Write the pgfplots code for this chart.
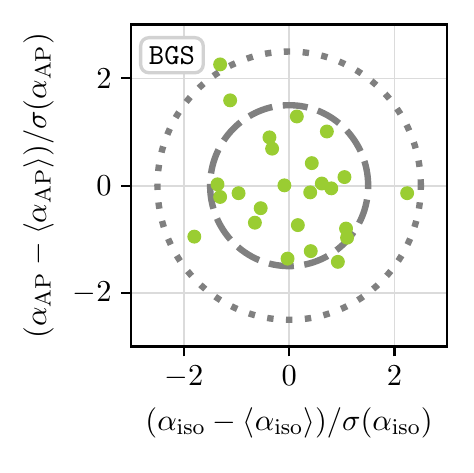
\documentclass[border=0pt]{standalone}
\usepackage{pgfplots}
\pgfplotsset{compat=1.18}
\definecolor{ptgreen}{HTML}{9ACD32}
\begin{document}
\begin{tikzpicture}[font=\fontsize{11.3}{13.5}\selectfont]
\begin{axis}[
  name=ax,
  scale only axis,
  width=113.8pt, height=115.9pt,
  xmin=-3, xmax=3, ymin=-3, ymax=3,
  xtick={-2,0,2}, ytick={-2,0,2},
  tick align=outside,
  xtick pos=bottom, ytick pos=left,
  major tick length=3.5pt,
  tick style={black, line width=0.8pt},
  axis line style={black, line width=0.9pt},
  grid=major,
  grid style={gray!28, line width=0.6pt},
  tick label style={font=\fontsize{11.3}{13.5}\selectfont},
  label style={font=\fontsize{11.3}{13.5}\selectfont},
  xlabel={$(\alpha_{\mathrm{iso}}-\langle\alpha_{\mathrm{iso}}\rangle)/\sigma(\alpha_{\mathrm{iso}})$},
  ylabel={$(\alpha_{\mathrm{AP}}-\langle\alpha_{\mathrm{AP}}\rangle)/\sigma(\alpha_{\mathrm{AP}})$},
  clip=true,
]
\draw[gray, line width=2.3pt, dash pattern=on 9pt off 3.8pt] (axis cs:0,0) circle[x radius=1.5, y radius=1.5];
\draw[gray, line width=2.3pt, dash pattern=on 2.3pt off 4.5pt] (axis cs:0,0) circle[x radius=2.5, y radius=2.5];
\addplot[only marks, mark=*, mark size=2.3pt, color=ptgreen, mark options={draw=ptgreen, fill=ptgreen}] coordinates {
(-1.31,2.26) (-1.12,1.59) (0.146,1.29) (0.716,1.01) (-0.374,0.90) (-0.323,0.69)
(0.43,0.42) (1.05,0.16) (-1.36,0.025) (-1.31,-0.21) (-0.96,-0.14) (-0.09,0.006)
(0.40,-0.125) (0.62,0.04) (0.80,-0.05) (2.24,-0.14) (-0.54,-0.42) (-0.65,-0.69)
(0.165,-0.735) (-1.80,-0.95) (1.08,-0.80) (1.10,-0.97) (0.41,-1.22) (-0.03,-1.36)
(0.925,-1.42)
};
\node[draw=gray!35, line width=1.2pt, rounded corners=3pt, fill=white, anchor=north west, inner sep=3pt, font=\ttfamily\fontsize{10.5}{12}\selectfont] at (rel axis cs:0.025,0.965) {BGS};
\end{axis}
\path (ax.south west) ++(-47.2pt,-45.5pt) rectangle ++(170.3pt,170.3pt);
\end{tikzpicture}
\end{document}
